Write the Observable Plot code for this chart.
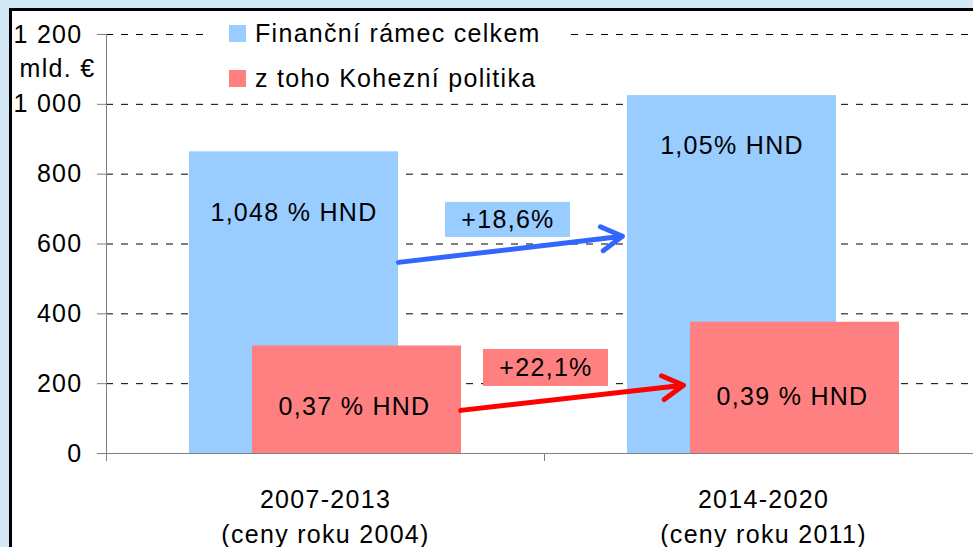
<!DOCTYPE html>
<html>
<head>
<meta charset="utf-8">
<script src="https://cdn.jsdelivr.net/npm/d3@7"></script>
<script src="https://cdn.jsdelivr.net/npm/@observablehq/plot@0.6"></script>
<style>
  html, body { margin: 0; padding: 0; width: 973px; height: 547px; overflow: hidden; background: #d3e9f5; }
  #frame { position: absolute; left: 9px; top: 8px; width: 1000px; height: 600px; background: #fff;
           border-left: 3px solid #000; border-top: 3px solid #000; }
  #chart { position: absolute; left: 0; top: 0; }
  #legend { position: absolute; left: 198px; top: 3px; width: 353px; height: 84px; background: #fff;
            font-family: "Liberation Sans", Arial, sans-serif; font-size: 25px; letter-spacing: 1.3px; color: #000; }
  .row { position: absolute; left: 19px; height: 30px; display: flex; align-items: center; white-space: nowrap; }
  .sw { width: 17px; height: 17px; margin-right: 9px; flex: none; }
  [aria-label="y-axis tick"], .tick line { stroke: #808080; }
</style>
</head>
<body>
<div id="frame">
  <div id="chart"></div>
  <div id="legend"></div>
</div>
<script>
const periods = ["2007-2013", "2014-2020"];
const priceNotes = ["(ceny roku 2004)", "(ceny roku 2011)"];
const seriesNames = ["Finanční rámec celkem", "z toho Kohezní politika"];
const seriesColors = ["#99ccff", "#ff8080"];
const totalFramework = [864, 1025];
const cohesionPolicy = [308, 376];
const totalGniLabels = ["1,048 % HND", "1,05% HND"];
const cohesionGniLabels = ["0,37 % HND", "0,39 % HND"];
const totalGniLabelY = [690, 880];
const cohesionGniLabelY = [132, 163];
const growthLabels = ["+18,6%", "+22,1%"];
const growthLabelY = [669, 245];
const growthArrowFrom = [523, 80];
const growthArrowTo = [669, 221];
const arrowColors = ["#3366ff", "#ff0000"];
const yTicks = [0, 200, 400, 600, 800, 1000, 1200];
const yUnit = "mld. €";

const rows = periods.map((p, i) => ({
  period: p, note: priceNotes[i],
  total: totalFramework[i], cohesion: cohesionPolicy[i],
  totalLabel: totalGniLabels[i], cohesionLabel: cohesionGniLabels[i],
  totalLabelY: totalGniLabelY[i], cohesionLabelY: cohesionGniLabelY[i]
}));
const growth = growthLabels.map((g, i) => ({label: g, y: growthLabelY[i], from: growthArrowFrom[i], to: growthArrowTo[i]}));

const fmt = d3.formatLocale({decimal: ",", thousands: " ", grouping: [3], currency: ["", ""]}).format(",d");
const gray = "#808080";
const half = 219; // half band width in px

const chart = Plot.plot({
  width: 970,
  height: 536,
  marginLeft: 94,
  marginRight: 0,
  marginTop: 23,
  marginBottom: 94,
  style: {fontFamily: "'Liberation Sans', Arial, sans-serif", fontSize: "25px", letterSpacing: "1.3px",
          background: "transparent", color: "#000", overflow: "visible", maxWidth: "none"},
  x: {type: "band", domain: periods, padding: 0, axis: null},
  y: {domain: [0, 1200], ticks: yTicks, tickFormat: fmt, tickSize: 9, tickPadding: 15, label: null},
  marks: [
    Plot.ruleY(yTicks.filter(d => d > 0), {stroke: "#000", strokeDasharray: "7,8", strokeWidth: 1}),
    Plot.barY(rows, {x: "period", y: "total", fill: seriesColors[0], insetLeft: 83, insetRight: 146}),
    Plot.barY(rows, {x: "period", y: "cohesion", fill: seriesColors[1], insetLeft: 146, insetRight: 83}),
    Plot.text(rows, {x: "period", y: "totalLabelY", text: "totalLabel", dx: -31.5}),
    Plot.text(rows, {x: "period", y: "cohesionLabelY", text: "cohesionLabel", dx: 29}),
    Plot.barY([growth[0]], {x: () => periods[0], y1: "y", y2: "y", fill: seriesColors[0],
      insetLeft: 339, insetRight: -26, insetTop: -17.5, insetBottom: -17.5}),
    Plot.barY([growth[1]], {x: () => periods[0], y1: "y", y2: "y", fill: seriesColors[1],
      insetLeft: 377, insetRight: -64, insetTop: -18.5, insetBottom: -18.5}),
    Plot.text([growth[0]], {x: () => periods[0], y: "y", text: "label", dx: 182.5}),
    Plot.text([growth[1]], {x: () => periods[0], y: "y", text: "label", dx: 220.5}),
    Plot.arrow([growth[0]], {x1: () => periods[0], x2: () => periods[1], y1: "from", y2: "to",
      stroke: arrowColors[0], strokeWidth: 5, headLength: 7.2, headAngle: 60, insetStart: 73.5, insetEnd: 142}),
    Plot.arrow([growth[1]], {x1: () => periods[0], x2: () => periods[1], y1: "from", y2: "to",
      stroke: arrowColors[1], strokeWidth: 5, headLength: 7.2, headAngle: 60, insetStart: 136, insetEnd: 80.5}),
    Plot.ruleY([0], {stroke: gray}),
    Plot.ruleX([periods[0]], {x: d => d, dx: -half, y1: 1200, y2: 0, insetBottom: -8, stroke: gray}),
    Plot.ruleX([periods[1]], {x: d => d, dx: -half, y1: 0, y2: 0, insetBottom: -8, stroke: gray}),
    Plot.text(rows, {x: "period", text: d => d.period + "\n" + d.note, frameAnchor: "bottom",
      lineAnchor: "top", dy: 29, lineHeight: 1.42}),
    Plot.text([yUnit], {text: d => d, frameAnchor: "top-left", textAnchor: "end", lineAnchor: "middle", dx: -11, dy: 34})
  ]
});
document.getElementById("chart").appendChild(chart);

const legend = document.getElementById("legend");
seriesNames.forEach((name, i) => {
  const row = document.createElement("div");
  row.className = "row";
  row.style.top = (4 + i * 45) + "px";
  const sw = document.createElement("span");
  sw.className = "sw";
  sw.style.background = seriesColors[i];
  const t = document.createElement("span");
  t.textContent = name;
  row.appendChild(sw);
  row.appendChild(t);
  legend.appendChild(row);
});
</script>
</body>
</html>
